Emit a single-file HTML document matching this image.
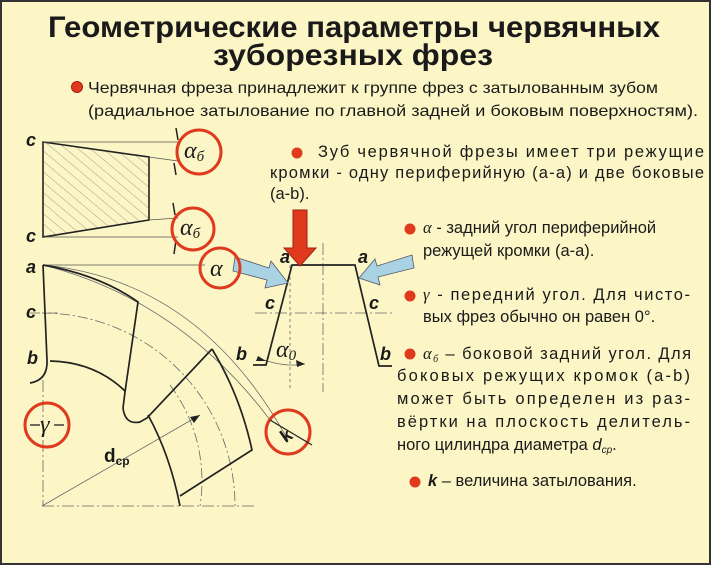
<!DOCTYPE html>
<html><head><meta charset="utf-8"><style>
html,body{margin:0;padding:0;background:#fcf6c6;}
svg{display:block;}
text{font-family:"Liberation Sans",sans-serif;fill:#1a1a1a;}
.t{font-size:16.5px;}
.lb{font-size:18px;font-weight:bold;font-style:italic;}
.gk{font-family:"Liberation Serif",serif;font-style:italic;font-size:24px;}
</style></head><body>
<svg width="711" height="565" viewBox="0 0 711 565" xmlns="http://www.w3.org/2000/svg">
<defs>
<pattern id="h" width="8" height="8" patternUnits="userSpaceOnUse" patternTransform="rotate(-50)">
<line x1="0" y1="0" x2="0" y2="8" stroke="#888" stroke-width="0.8"/></pattern>
</defs>
<rect x="0" y="0" width="711" height="565" fill="#fcf6c6"/>
<rect x="1" y="1" width="709" height="563" fill="none" stroke="#333" stroke-width="2"/>

<!-- Title -->
<text x="354" y="37" text-anchor="middle" font-size="30" font-weight="bold" textLength="612" lengthAdjust="spacingAndGlyphs">Геометрические параметры червячных</text>
<text x="353" y="65" text-anchor="middle" font-size="30" font-weight="bold" textLength="280" lengthAdjust="spacingAndGlyphs">зуборезных фрез</text>
<circle cx="77" cy="87" r="5.5" fill="#e03a1e" stroke="#a02010"/>
<text x="88" y="93" font-size="16" textLength="570" lengthAdjust="spacingAndGlyphs">Червячная фреза принадлежит к группе фрез с затылованным зубом</text>
<text x="88" y="116" font-size="16" textLength="610" lengthAdjust="spacingAndGlyphs">(радиальное затылование по главной задней и боковым поверхностям).</text>

<!-- Right text -->
<circle cx="297" cy="153" r="5.5" fill="#e03a1e"/>
<text class="t" x="318" y="157" textLength="386" lengthAdjust="spacing">Зуб червячной фрезы имеет три режущие</text>
<text class="t" x="270" y="178" textLength="434" lengthAdjust="spacing">кромки - одну периферийную (а-а) и две боковые</text>
<text class="t" x="270" y="199">(a-b).</text>

<circle cx="410" cy="229" r="5.5" fill="#e03a1e"/>
<text class="t" x="423" y="233"><tspan font-family="Liberation Serif" font-style="italic">α</tspan> - задний угол периферийной</text>
<text class="t" x="423" y="256">режущей кромки (а-а).</text>

<circle cx="410" cy="296" r="5.5" fill="#e03a1e"/>
<text class="t" x="423" y="300" textLength="267" lengthAdjust="spacing"><tspan font-family="Liberation Serif" font-style="italic">γ</tspan> - передний угол. Для чисто-</text>
<text class="t" x="423" y="322">вых фрез обычно он равен 0°.</text>

<circle cx="410" cy="354" r="5.5" fill="#e03a1e"/>
<text class="t" x="423" y="359" textLength="268" lengthAdjust="spacing"><tspan font-family="Liberation Serif" font-style="italic">α<tspan font-size="10" dy="3">б</tspan></tspan><tspan dy="-3"> – боковой задний угол. Для</tspan></text>
<text class="t" x="397" y="381" textLength="293" lengthAdjust="spacing">боковых режущих кромок (a-b)</text>
<text class="t" x="397" y="404" textLength="293" lengthAdjust="spacing">может быть определен из раз-</text>
<text class="t" x="397" y="427" textLength="293" lengthAdjust="spacing">вёртки на плоскость делитель-</text>
<text class="t" x="397" y="450">ного цилиндра диаметра <tspan font-style="italic">d</tspan><tspan font-size="10" font-style="italic" dy="3">ср</tspan><tspan dy="-3">.</tspan></text>

<circle cx="415" cy="482" r="5.5" fill="#e03a1e"/>
<text class="t" x="428" y="486"><tspan font-weight="bold" font-style="italic">k</tspan> – величина затылования.</text>

<!-- hatched trapezoid -->
<polygon points="43,142 149,157 149,220 43,237" fill="url(#h)" stroke="#222" stroke-width="1.6"/>
<g stroke="#555" stroke-width="0.7" fill="none">
<line x1="43" y1="142" x2="178" y2="142"/>
<line x1="149" y1="157" x2="178" y2="161"/>
<line x1="43" y1="237" x2="178" y2="237"/>
<line x1="149" y1="220" x2="178" y2="218"/>
<line x1="43" y1="265" x2="205" y2="265"/>
</g>
<g stroke="#222" stroke-width="1.5">
<line x1="176" y1="128" x2="178" y2="140"/><line x1="176" y1="175" x2="174" y2="163"/>
<line x1="173" y1="203" x2="175" y2="215"/><line x1="174" y1="254" x2="176" y2="240"/>
</g>
<text class="lb" x="26" y="146">c</text>
<text class="lb" x="26" y="242">c</text>
<text class="lb" x="26" y="273">a</text>
<text class="lb" x="26" y="318">c</text>
<text class="lb" x="27" y="364">b</text>

<!-- gear -->
<g fill="none" stroke="#666" stroke-width="0.8">
<path d="M42,313 A193,193 0 0 1 235,506" stroke-dasharray="10,3,2,3"/>
<path d="M43,265 Q200,280 288,440"/>
<path d="M43,265 Q180,300 270,420"/>
<path d="M30,313 L60,313" stroke-dasharray="10,3,2,3"/>
<line x1="42" y1="506" x2="256" y2="506" stroke-dasharray="12,3,2,3"/>
<line x1="43" y1="380" x2="43" y2="506" stroke-dasharray="12,3,2,3"/>
<line x1="42" y1="506" x2="200" y2="415"/>
<path d="M170,385 A160,160 0 0 1 200,506" stroke-dasharray="10,3,2,3"/>
</g>
<polygon points="200,415 190,417 194,423" fill="#222"/>
<g fill="none" stroke="#222" stroke-width="1.7">
<path d="M43,265 Q100,275 138,302 L125,392 L123,408 Q125,425 140,422 L147,418 L212,349"/>
<path d="M43,265 L47,360 Q48,380 30,383"/>
<path d="M50,361 Q95,362 125,391"/>
<path d="M212,349 Q240,395 252,450 L180,496"/>
<path d="M148,415 Q170,455 180,506"/>
</g>
<text x="104" y="462" font-size="19" font-weight="bold">d<tspan font-size="12" dy="3">ср</tspan></text>

<!-- tooth profile -->
<g fill="none" stroke="#666" stroke-width="0.8">
<line x1="323" y1="243" x2="323" y2="392" stroke-dasharray="12,3,2,3"/>
<line x1="255" y1="313" x2="392" y2="313" stroke-dasharray="12,3,2,3"/>
<line x1="290" y1="265" x2="290" y2="390" stroke-dasharray="3,3"/>
<path d="M258,358 Q285,368 305,364"/>
</g>
<g fill="none" stroke="#222" stroke-width="1.7">
<polyline points="253,365 266,365 292,265 355,265 379,366 392,366"/>
</g>
<polygon points="258,356 266,361 256,361" fill="#222"/>
<polygon points="305,364 296,360 297,367" fill="#222"/>
<!-- red arrow -->
<polygon points="293,210 307,210 307,248 316,248 300,266 284,248 293,248" fill="#e03a1e" stroke="#a02010"/>
<!-- blue arrows -->
<polygon points="235,257 269,268 271,261 288,283 265,288 267,280 233,271" fill="#a9d2e3" stroke="#556" stroke-width="0.8"/>
<polygon points="412,255 377,266 375,259 359,278 380,285 378,277 414,268" fill="#a9d2e3" stroke="#556" stroke-width="0.8"/>
<text class="lb" x="280" y="263">a</text>
<text class="lb" x="358" y="263">a</text>
<text class="lb" x="265" y="309">c</text>
<text class="lb" x="369" y="309">c</text>
<text class="lb" x="236" y="360">b</text>
<text class="lb" x="380" y="360">b</text>
<text class="gk" x="276" y="357">α<tspan font-size="15" dy="3">0</tspan></text>

<!-- red circles -->
<g fill="none" stroke="#e03a1e" stroke-width="3">
<circle cx="199" cy="152" r="22"/>
<circle cx="193" cy="229" r="21"/>
<circle cx="220" cy="268" r="20"/>
<circle cx="47" cy="425" r="22"/>
<circle cx="288" cy="432" r="22"/>
</g>
<text class="gk" x="184" y="158">α<tspan font-size="15" dy="3">б</tspan></text>
<text class="gk" x="180" y="235">α<tspan font-size="15" dy="3">б</tspan></text>
<text class="gk" x="210" y="276">α</text>
<text class="gk" x="40" y="432">γ</text>
<g stroke="#222" stroke-width="1.3"><line x1="30" y1="425" x2="40" y2="425"/><line x1="54" y1="425" x2="64" y2="425"/><line x1="270" y1="420" x2="312" y2="445"/></g>
<text x="280" y="440" font-size="18" font-weight="bold" transform="rotate(-35 288 433)">k</text>
</svg>
</body></html>
